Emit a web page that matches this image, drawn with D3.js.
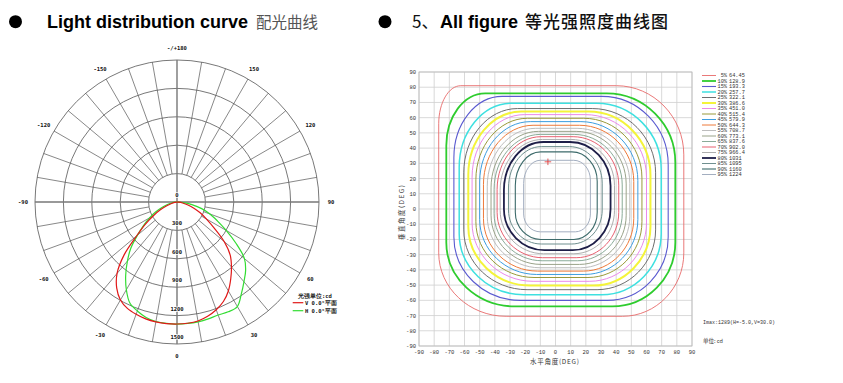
<!DOCTYPE html>
<html><head><meta charset="utf-8">
<script src="https://cdn.jsdelivr.net/npm/d3@7"></script>
<style>body{margin:0;background:#fff}</style>
</head><body><svg id="c" width="843" height="383"></svg>
<script>
// ---------------- DATA ----------------
// Polar light distribution (angle from nadir, deg; intensity cd)
const polarAngles = [-90,-85,-80,-75,-70,-65,-60,-55,-50,-45,-40,-35,-30,-25,-20,-15,-10,-5,0,5,10,15,20,25,30,35,40,45,50,55,60,65,70,75,80,85,90];
const vPlane = [0,5,25,60,110,190,285,410,555,790,985,1110,1195,1240,1262,1278,1286,1289,1289,1286,1276,1250,1211,1160,1085,990,895,795,650,480,360,270,190,120,60,20,0];
const hPlane = [0,20,60,110,170,250,335,430,545,690,815,945,1070,1178,1225,1262,1282,1288,1289,1288,1285,1278,1270,1280,1275,1185,1100,1025,930,760,600,470,370,270,160,70,0];
const ringValues = [300,600,900,1200,1500];
const ringLabels = ["0","300","600","900","1200","1500"];
const angleLabelAngles = [0,30,60,90,120,150,180,-150,-120,-90,-60,-30];
const angleLabelText = ["0","30","60","90","120","150","-/+180","-150","-120","-90","-60","-30"];
const polarSeriesNames = ["V 0.0°平面","H 0.0°平面"];

// Iso-candela contours: percent levels, values, extents (deg)
const levelPct = [5,10,15,20,25,30,35,40,45,50,55,60,65,70,75,80,85,90,95];
const levelValue = ["64.45","128.9","193.3","257.7","322.1","386.6","451.0","515.4","579.9","644.3","708.7","773.1","837.6","902.0","966.4","1031","1095","1160","1224"];
const contourLeft   = [-77,-72,-67,-63.5,-60.5,-57.5,-55,-52.5,-50,-47.5,-45,-42.5,-40.5,-38.5,-36.5,-34,-31,-26.5,-21];
const contourRight  = [84.6,79,74.3,69.7,66,62.6,60,57,54.3,51.6,49,46.6,44,41.7,38.9,36.3,30.8,27.5,23];
const contourTop    = [81,76,74,69.5,66,64,62,59.6,57.4,55,53,51,49,47.5,45.7,44,41,37.5,32];
const contourBottom = [-70.5,-64,-60,-56.3,-53,-50.3,-47.5,-45,-43,-40.8,-38.6,-36.4,-34,-32,-29.4,-27,-23,-20,-15];
const contourRound  = [0.55,0.6,0.62,0.64,0.66,0.68,0.7,0.7,0.72,0.72,0.74,0.74,0.75,0.75,0.76,0.76,0.7,0.62,0.5];
const contourNWRound = [0.18,0.34,0.45,0.52,0.56,0.58,0.6,0.62,0.64,0.66,0.68,0.7,0.72,0.72,0.74,0.74,0.7,0.62,0.5];
const levelColor = ["#e86a6a","#2ecc2e","#5a5ad0","#3ee0e0","#6e6e6e","#f4f43a","#ea8aea","#9a9a3a","#3d9ee0","#ee7a3a","#bdbdbd","#9aa38a","#8aab98","#e86070","#aeaeae","#1e1e48","#6f8f8f","#3d6b6b","#a3aec0"];
const levelWidth = [0.9,1.8,1.1,1.5,1.0,2.0,1.0,1.0,1.0,1.0,1.0,1.0,1.0,1.0,1.0,1.8,1.0,1.1,1.0];
const axisTicks = [-90,-80,-70,-60,-50,-40,-30,-20,-10,0,10,20,30,40,50,60,70,80,90];
const imaxPoint = [-5,31];

// ---------------- DRAW ----------------
const svg = d3.select("#c");
svg.append("rect").attr("width",843).attr("height",383).attr("fill","#fff");

// Headers
svg.append("circle").attr("cx",15.5).attr("cy",21.7).attr("r",6.5).attr("fill","#000");
svg.append("circle").attr("cx",385).attr("cy",21.7).attr("r",6.5).attr("fill","#000");
svg.append("text").attr("x",47).attr("y",28).attr("font-family","Liberation Sans, Arial, sans-serif")
  .attr("font-weight","bold").attr("font-size",18).attr("fill","#000").text("Light distribution curve");
svg.append("text").attr("x",256).attr("y",28).attr("font-family","Noto Sans CJK SC").attr("font-size",15.5)
  .attr("fill","#555").text("配光曲线");
svg.append("text").attr("x",412).attr("y",28).attr("font-family","Noto Sans CJK SC").attr("font-size",17)
  .attr("fill","#111").text("5、");
svg.append("text").attr("x",440).attr("y",28).attr("font-family","Liberation Sans, Arial, sans-serif")
  .attr("font-weight","bold").attr("font-size",18).attr("fill","#000").text("All figure");
svg.append("text").attr("x",525).attr("y",28).attr("font-family","Noto Sans CJK SC").attr("font-size",17)
  .attr("font-weight",500).attr("fill","#111").attr("textLength",143).attr("lengthAdjust","spacing").text("等光强照度曲线图");

// ---------- Polar ----------
const cx = 177, cy = 202, R = 142;
const r = d3.scaleLinear().domain([0,1500]).range([0,R]);
const pg = svg.append("g").attr("transform",`translate(${cx},${cy})`);
const rad = d => d*Math.PI/180;
const innerR = r(ringValues[0]);
pg.selectAll("line.spoke").data(d3.range(0,360,10).filter(a => a%90 !== 0)).join("line")
  .attr("x1",a => innerR*Math.sin(rad(a))).attr("y1",a => innerR*Math.cos(rad(a)))
  .attr("x2",a => R*Math.sin(rad(a))).attr("y2",a => R*Math.cos(rad(a)))
  .attr("stroke","#555").attr("stroke-width",0.7);
pg.selectAll("circle.ring").data(ringValues).join("circle")
  .attr("r",d => r(d)).attr("fill","none").attr("stroke","#555").attr("stroke-width",0.8);
pg.append("line").attr("x1",-R).attr("x2",R).attr("y1",0).attr("y2",0).attr("stroke","#777").attr("stroke-width",1.4);
pg.append("line").attr("y1",-R).attr("y2",R).attr("x1",0).attr("x2",0).attr("stroke","#777").attr("stroke-width",1.4);
pg.selectAll("text.rl").data(ringLabels).join("text")
  .attr("x",0).attr("y",(d,i) => (i===0 ? 0 : r(ringValues[i-1])) - 5)
  .attr("text-anchor","middle").attr("font-family","DejaVu Sans Mono, monospace").attr("font-weight","bold")
  .attr("font-size",5.5).attr("fill","#111")
  .attr("stroke","#fff").attr("stroke-width",1.5).attr("paint-order","stroke").text(d => d);
pg.selectAll("text.al").data(angleLabelAngles).join("text")
  .attr("x",a => 154*Math.sin(rad(a))).attr("y",a => 154*Math.cos(rad(a)) + 2)
  .attr("text-anchor","middle").attr("font-family","DejaVu Sans Mono, monospace").attr("font-weight","bold")
  .attr("font-size",5.5).attr("fill","#111").text((a,i) => angleLabelText[i]);
const radial = d3.lineRadial().angle(d => Math.PI - rad(d[0])).radius(d => r(d[1])).curve(d3.curveCatmullRom.alpha(0.5));
pg.append("path").attr("d",radial(polarAngles.map((a,i)=>[a,hPlane[i]]))).attr("fill","none").attr("stroke","#33dd33").attr("stroke-width",1.2);
pg.append("path").attr("d",radial(polarAngles.map((a,i)=>[a,vPlane[i]]))).attr("fill","none").attr("stroke","#e01818").attr("stroke-width",1.2);
const lg = svg.append("g").attr("font-family","DejaVu Sans Mono, monospace").attr("font-weight","bold").attr("font-size",5.5).attr("fill","#111");
lg.append("text").attr("x",298).attr("y",298).text("光强单位:cd");
[["#e01818",polarSeriesNames[0],302.7],["#33dd33",polarSeriesNames[1],310.7]].forEach(([c,t,yy]) => {
  lg.append("line").attr("x1",292.7).attr("x2",303.3).attr("y1",yy).attr("y2",yy).attr("stroke",c).attr("stroke-width",1.2);
  lg.append("text").attr("x",305).attr("y",yy+2).text(t);
});

// ---------- Iso-candela chart ----------
const x = d3.scaleLinear().domain([-90,90]).range([419,692]);
const y = d3.scaleLinear().domain([-90,90]).range([346,72]);
const cg = svg.append("g");
cg.selectAll("line.gx").data(axisTicks).join("line")
  .attr("x1",d=>x(d)).attr("x2",d=>x(d)).attr("y1",y(90)).attr("y2",y(-90)).attr("stroke","#cfcfcf").attr("stroke-width",0.8);
cg.selectAll("line.gy").data(axisTicks).join("line")
  .attr("y1",d=>y(d)).attr("y2",d=>y(d)).attr("x1",x(-90)).attr("x2",x(90)).attr("stroke","#cfcfcf").attr("stroke-width",0.8);
cg.append("rect").attr("x",x(-90)).attr("y",y(90)).attr("width",x(90)-x(-90)).attr("height",y(-90)-y(90))
  .attr("fill","none").attr("stroke","#bbb").attr("stroke-width",0.8);
cg.selectAll("text.tx").data(axisTicks).join("text").attr("x",d=>x(d)).attr("y",354)
  .attr("text-anchor","middle").attr("font-family","Liberation Mono, monospace").attr("font-size",5.5).attr("fill","#333").text(d=>d);
cg.selectAll("text.ty").data(axisTicks).join("text").attr("x",416).attr("y",d=>y(d)+2)
  .attr("text-anchor","end").attr("font-family","Liberation Mono, monospace").attr("font-size",5.5).attr("fill","#333").text(d=>d);
cg.append("text").attr("x",530).attr("y",364).attr("font-family","Noto Sans CJK SC").attr("font-size",6.5).attr("fill","#333")
  .attr("textLength",49).attr("lengthAdjust","spacing").text("水平角度(DEG)");
cg.append("text").attr("transform","translate(404,240) rotate(-90)").attr("font-family","Noto Sans CJK SC").attr("font-size",6.5).attr("fill","#333")
  .attr("textLength",55).attr("lengthAdjust","spacing").text("垂直角度(DEG)");

function contourPath(i){
  const xl=x(contourLeft[i]), xr=x(contourRight[i]), yt=y(contourTop[i]), yb=y(contourBottom[i]);
  const hw=(xr-xl)/2, hh=(yb-yt)/2, k=0.55, f=contourRound[i], g=contourNWRound[i];
  const ne=[f*hw,(f+0.05)*hh], se=[(f-0.05)*hw,f*hh], sw=[f*hw,f*hh], nw=[g*hw,Math.min(0.95,g+0.15)*hh];
  const p=d3.path();
  p.moveTo(xl+nw[0],yt);
  p.lineTo(xr-ne[0],yt);
  p.bezierCurveTo(xr-ne[0]+k*ne[0],yt, xr,yt+ne[1]-k*ne[1], xr,yt+ne[1]);
  p.lineTo(xr,yb-se[1]);
  p.bezierCurveTo(xr,yb-se[1]+k*se[1], xr-se[0]+k*se[0],yb, xr-se[0],yb);
  p.lineTo(xl+sw[0],yb);
  p.bezierCurveTo(xl+sw[0]-k*sw[0],yb, xl,yb-sw[1]+k*sw[1], xl,yb-sw[1]);
  p.lineTo(xl,yt+nw[1]);
  p.bezierCurveTo(xl,yt+nw[1]-k*nw[1], xl+nw[0]-k*nw[0],yt, xl+nw[0],yt);
  p.closePath();
  return p.toString();
}
cg.selectAll("path.ct").data(levelPct).join("path")
  .attr("d",(d,i)=>contourPath(i)).attr("fill","none")
  .attr("stroke",(d,i)=>levelColor[i]).attr("stroke-width",(d,i)=>levelWidth[i]).attr("stroke-linejoin","round");
// Imax marker: small plus
cg.append("path").attr("d",d3.symbol(d3.symbolPlus,16)()).attr("transform",`translate(${x(imaxPoint[0])},${y(imaxPoint[1])})`)
  .attr("fill","none").attr("stroke","#e03030").attr("stroke-width",0.8);

const leg = svg.append("g").attr("font-family","Liberation Mono, monospace").attr("font-size",5.3).attr("fill","#333");
const ly = d3.scaleLinear().domain([0,levelPct.length-1]).range([75.5,174.5]);
levelPct.forEach((p,i)=>{
  leg.append("line").attr("x1",702).attr("x2",716).attr("y1",ly(i)).attr("y2",ly(i)).attr("stroke",levelColor[i]).attr("stroke-width",levelWidth[i]);
  leg.append("text").attr("x",727).attr("y",ly(i)+1.8).attr("text-anchor","end").text(p+"%");
  leg.append("text").attr("x",729).attr("y",ly(i)+1.8).text(levelValue[i]);
});
svg.append("text").attr("x",703).attr("y",324).attr("font-family","Liberation Mono, monospace").attr("font-size",5).attr("fill","#333").text("Imax:1289(H=-5.0,V=30.0)");
svg.append("text").attr("x",703).attr("y",343).attr("font-family","Noto Sans CJK SC").attr("font-size",5.5).attr("fill","#333").text("单位: cd");
</script></body></html>
